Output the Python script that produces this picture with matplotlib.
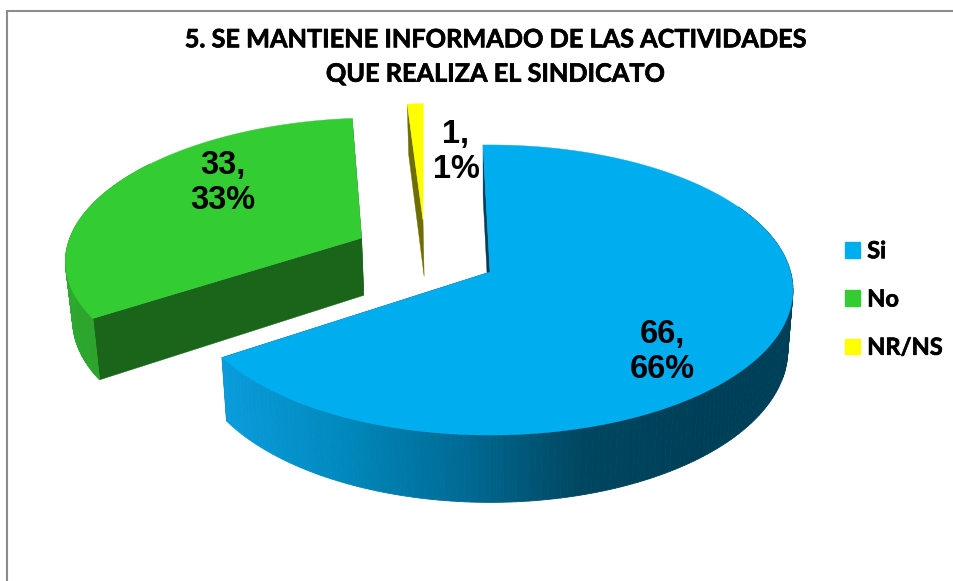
import numpy as np
import matplotlib
matplotlib.use('Agg')
import matplotlib.pyplot as plt
import matplotlib.patheffects as pe
from matplotlib.patches import Polygon, Patch
from matplotlib.colors import LinearSegmentedColormap

categories = ['Si', 'No', 'NR/NS']
values = [66, 33, 1]
percents = [66, 33, 1]
title = '5. SE MANTIENE INFORMADO DE LAS ACTIVIDADES\nQUE REALIZA EL SINDICATO'

top_colors = ['#00AEEF', '#33CC33', '#FFFF00']
face_colors = ['#003F58', '#1A651A', '#6E6E00']
# explosion of every slice, in the plane of the pie
offsets = [(0, 0), (-0.44, 0.245), (-0.2334, 0.381)]
arc_ranges = [(0, 175), (0, 70), (0, 0)]  # part of the outer wall that shows
label_pos = [(662, 352), (223, 183), (456, 152)]

# pie plane -> picture pixels (simple perspective)
cx, cy = 490, 272
b, a, k = 300.6, 142.8, 0.124
depth, shrink = 59, 0.983
start = 91.5


def project(X, Y, bottom=False):
    d = 1 + k * Y
    s = shrink if bottom else 1
    h = depth if bottom else 0
    return cx + s * b * X / d, cy + (h - a * Y) / d


def wedge_top(t0, t1, off):
    t = np.radians(np.linspace(t0, t1, 200))
    x, y = project(off[0] + np.cos(t), off[1] + np.sin(t))
    ax0, ay0 = project(off[0], off[1])
    return np.column_stack([np.r_[ax0, x], np.r_[ay0, y]])


def radial_face(t, off):
    r = np.radians(t)
    p = [project(off[0], off[1]), project(off[0] + np.cos(r), off[1] + np.sin(r)),
         project(off[0] + np.cos(r), off[1] + np.sin(r), True), project(off[0], off[1], True)]
    return p


fig = plt.figure(figsize=(9.54, 5.81), dpi=100)
ax = fig.add_axes([0, 0, 1, 1])
ax.set_xlim(0, 954)
ax.set_ylim(581, 0)
ax.axis('off')

# chart frame, only top and left show
ax.plot([7.5, 7.5, 954], [581, 10.5, 10.5], color='#8C8C8C', lw=1.5, solid_joinstyle='miter')

blue_side = LinearSegmentedColormap.from_list('blue_side', [(0, '#0A9DDC'), (0.25, '#0088BC'), (0.5, '#006A94'),
                                                            (0.75, '#00465F'), (1, '#003F58')])
green_side = LinearSegmentedColormap.from_list('green_side', ['#2DA52D', '#2FB02F'])

ends = start - np.cumsum(values) * 3.6
starts = np.r_[start, ends[:-1]]

for i in [2, 1, 0]:
    t0, t1 = starts[i], ends[i]
    off = offsets[i]
    # radial walls (the right one of the thin slice stays hidden)
    for t in ((t0,) if i == 2 else (t0, t1)):
        ax.add_patch(Polygon(radial_face(t, off), closed=True, fc=face_colors[i], ec=face_colors[i], lw=0.3))
    # outer wall, cut in small strips for the shading
    lo, hi = arc_ranges[i]
    if hi > 0:
        base = t1 if i == 0 else t0
        sign = 1 if i == 0 else -1
        steps = np.linspace(lo, hi, 160)
        for s0, s1 in zip(steps[:-1], steps[1:]):
            r0, r1 = np.radians(base + sign * s0), np.radians(base + sign * s1)
            X0, Y0 = off[0] + np.cos(r0), off[1] + np.sin(r0)
            X1, Y1 = off[0] + np.cos(r1), off[1] + np.sin(r1)
            q = [project(X0, Y0), project(X1, Y1), project(X1, Y1, True), project(X0, Y0, True)]
            if i == 0:
                c = blue_side(np.clip((q[0][0] - 222) / 480, 0, 1))
            else:
                c = green_side(s0 / hi)
            ax.add_patch(Polygon(q, closed=True, fc=c, ec=c, lw=0.6))
    ax.add_patch(Polygon(wedge_top(t1, t0, off), closed=True, fc=top_colors[i], ec=top_colors[i], lw=0.3))

for v, p, (lx, ly) in zip(values, percents, label_pos):
    ax.text(lx, ly, f'{v},\n{p}%', ha='center', va='center', family='Liberation Sans',
            fontweight='bold', fontsize=23.5, color='black', linespacing=1.17)

heavier = [pe.withStroke(linewidth=0.5, foreground='black')]
ax.text(495, 57, title, ha='center', va='center', family='Lato', fontweight='bold',
        fontsize=18.2, color='black', linespacing=1.6, path_effects=heavier)

handles = [Patch(fc=c, ec=c) for c in top_colors]
leg = ax.legend(handles, categories, loc='center left', bbox_to_anchor=(845 / 954, 1 - 299 / 581),
                frameon=False, prop={'family': 'Lato', 'weight': 'bold', 'size': 17},
                handlelength=0.64, handleheight=0.64, handletextpad=0.3, labelspacing=1.07,
                borderpad=0, borderaxespad=0)
for txt in leg.get_texts():
    txt.set_path_effects(heavier)

fig.savefig('out.png', dpi=100)
